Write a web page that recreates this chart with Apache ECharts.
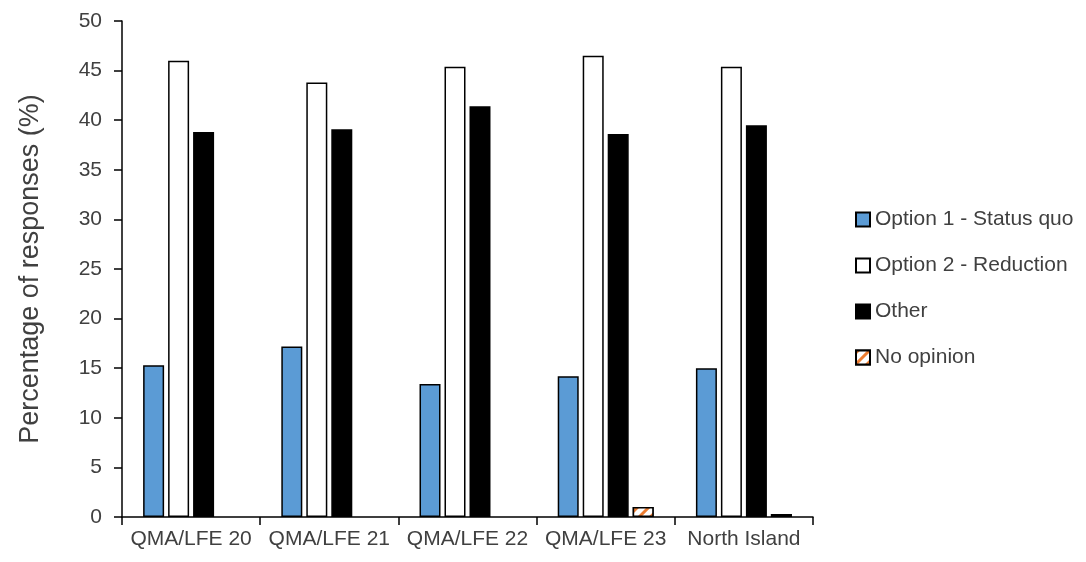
<!DOCTYPE html>
<html><head><meta charset="utf-8">
<script src="https://cdn.jsdelivr.net/npm/echarts@6/dist/echarts.min.js"></script>
<style>html,body{margin:0;padding:0;background:#fff}#c{width:1086px;height:562px}</style>
</head><body><div id="c"></div>
<script>
const categories = ['QMA/LFE 20','QMA/LFE 21','QMA/LFE 22','QMA/LFE 23','North Island'];
const option1 = [15.3, 17.2, 13.4, 14.2, 15.0];
const option2 = [46.0, 43.8, 45.4, 46.5, 45.4];
const other = [38.8, 39.1, 41.4, 38.6, 39.5];
const noOpinion = [null, null, null, 1.0, 0.3];
const seriesNames = ['Option 1 - Status quo','Option 2 - Reduction','Other','No opinion'];
const yTicks = [0,5,10,15,20,25,30,35,40,45,50];

const FONT = '"Liberation Sans", Arial, sans-serif';
const chart = echarts.init(document.getElementById('c'));
const barW = 21;
chart.setOption({
  animation:false,
  grid:{left:122,right:273,top:21,bottom:45},
  legend:{
    orient:'vertical', left:855, top:209, itemGap:25, padding:0,
    itemWidth:14, itemHeight:14, icon:'rect',
    textStyle:{fontFamily:FONT,fontSize:21,color:'#404040'},
    data:seriesNames
  },
  xAxis:{
    type:'category', data:categories,
    axisLine:{lineStyle:{color:'#000',width:1.5}},
    axisTick:{show:true,length:8,lineStyle:{color:'#000',width:1.5}},
    axisLabel:{fontFamily:FONT,fontSize:21,color:'#404040',margin:12,interval:0}
  },
  yAxis:{
    type:'value', min:yTicks[0], max:yTicks[yTicks.length-1], interval:5,
    name:'Percentage of responses (%)', nameLocation:'middle', nameGap:78,
    nameTextStyle:{fontFamily:FONT,fontSize:27,color:'#404040'},
    axisLine:{show:true,lineStyle:{color:'#000',width:1.5}},
    axisTick:{show:true,length:8,lineStyle:{color:'#000',width:1.5}},
    axisLabel:{fontFamily:FONT,fontSize:21,color:'#404040',margin:20},
    splitLine:{show:false}
  },
  series:[
    {name:seriesNames[0],type:'bar',data:option1,barWidth:barW,barGap:'19%',barCategoryGap:'30%',
     itemStyle:{color:'#5B9BD5',borderColor:'#000',borderWidth:1.5}},
    {name:seriesNames[1],type:'bar',data:option2,barWidth:barW,barGap:'19%',
     itemStyle:{color:'#fff',borderColor:'#000',borderWidth:1.5}},
    {name:seriesNames[2],type:'bar',data:other,barWidth:barW,barGap:'19%',
     itemStyle:{color:'#000',borderColor:'#000',borderWidth:1.5}},
    {name:seriesNames[3],type:'bar',data:noOpinion,barWidth:barW,barGap:'19%',
     itemStyle:{color:'#fff',borderColor:'#000',borderWidth:1.5,
       decal:{symbol:'rect',color:'#ED7D31',backgroundColor:'#fff',dashArrayX:[1,0],dashArrayY:[3,5],rotation:-Math.PI/4,symbolSize:1}}}
  ]
});
</script></body></html>
